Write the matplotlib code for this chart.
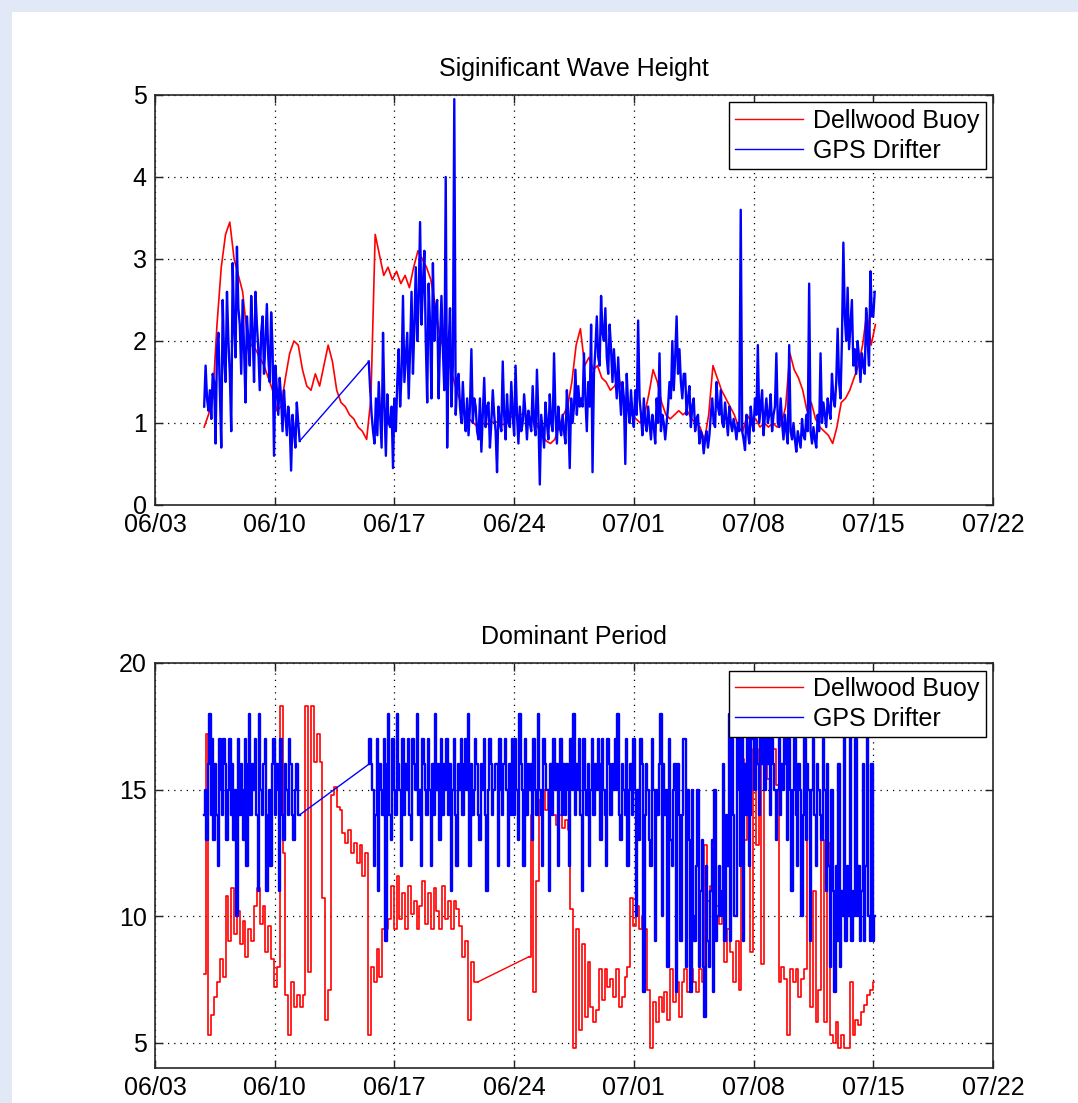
import numpy as np
import pandas as pd
import matplotlib
matplotlib.use("Agg")
import matplotlib.pyplot as plt
import matplotlib.dates as mdates
from matplotlib.patches import Rectangle

plt.rcParams["font.family"] = ["Liberation Sans", "DejaVu Sans"]

# sample start times (drifter every 2 h in two legs, buoy Hs every 6 h, buoy Tp every 4 h)
drifter_leg1_start = "2010-06-05 21:00"
drifter_leg2_start = "2010-06-15 12:00"
buoy_hs_start = "2010-06-05 21:00"
buoy_tp_leg1_start = "2010-06-05 21:00"
buoy_tp_leg2_start = "2010-06-24 21:00"

# significant wave height (m)
drifter_hs_leg1 = [
    1.2, 1.7, 1.3, 1.15, 1.4, 1.05, 1.6, 1.5,
    0.75, 1.9, 2.1, 1.4, 0.7, 2.5, 1.8, 1.5, 2.6, 2.0, 1.6, 0.9,
    2.95, 2.2, 1.8, 3.15, 2.4, 2.2, 1.6, 2.5, 1.9, 1.25, 2.3, 2.0,
    1.7, 2.55, 2.1, 1.5, 2.6, 2.2, 1.9, 1.4, 2.1, 2.3, 1.6, 2.0,
    2.45, 1.8, 1.5, 2.35, 1.9, 0.6, 1.7, 1.4, 1.1, 1.55, 1.3, 0.9,
    1.4, 1.1, 0.85, 1.2, 1.0, 0.42, 1.1, 0.9, 0.7, 1.25, 1.0, 0.78,
]
drifter_hs_leg2 = [
    1.75, 1.4, 1.1, 0.9, 0.75, 1.3,
    0.85, 1.5, 1.1, 0.7, 2.1, 1.2, 0.6, 1.35, 1.0, 0.95, 1.2, 0.45,
    1.3, 0.9, 1.5, 1.9, 1.2, 1.6, 2.55, 1.5, 1.8, 2.1, 1.3, 1.9,
    2.6, 1.6, 2.2, 2.9, 2.0, 2.5, 3.45, 2.2, 2.7, 3.1, 2.0, 1.25,
    2.7, 2.2, 1.3, 2.95, 2.0, 2.4, 2.5, 1.3, 2.0, 2.55, 1.9, 1.4,
    4.0, 0.7, 1.9, 2.4, 1.2, 1.7, 4.95, 1.1, 1.5, 1.6, 1.2, 1.0,
    1.5, 1.1, 0.9, 1.3, 0.85, 1.2, 1.9, 1.0, 1.3, 1.2, 0.9, 0.8,
    1.3, 0.65, 1.1, 1.55, 0.95, 1.2, 1.25, 0.7, 1.0, 1.4, 1.1, 0.9,
    0.4, 1.2, 1.0, 0.9, 1.75, 1.1, 0.8, 1.35, 1.0, 0.95, 1.5, 1.1,
    0.85, 1.7, 1.1, 0.75, 1.2, 0.9, 1.0, 1.35, 1.1, 0.8, 1.15, 1.0,
    0.9, 1.45, 1.0, 0.85, 1.65, 1.1, 0.25, 1.1, 0.9, 0.7, 1.25, 1.0,
    0.8, 1.35, 1.0, 0.9, 1.85, 1.1, 0.75, 1.2, 0.95, 0.85, 1.1, 0.9,
    0.75, 1.4, 1.1, 0.45, 1.3, 1.0, 1.2, 1.65, 1.1, 1.45, 1.2, 1.3,
    1.2, 1.85, 1.3, 0.9, 1.5, 1.2, 2.2, 0.4, 1.6, 1.9, 2.3, 1.8,
    1.7, 2.55, 2.1, 2.0, 2.4, 1.8, 1.6, 2.2, 1.9, 1.5, 1.9, 1.6,
    1.3, 1.8, 1.4, 1.1, 1.5, 1.3, 0.5, 1.6, 1.2, 1.0, 1.4, 1.1,
    0.95, 1.4, 1.1, 2.25, 1.3, 1.1, 0.85, 1.3, 1.0, 0.9, 1.2, 1.0,
    0.8, 1.1, 0.95, 0.75, 1.3, 1.0, 1.85, 0.9, 1.1, 1.0, 0.8, 1.0,
    1.2, 1.5, 1.3, 2.0, 1.4, 1.8, 2.3, 1.6, 1.9, 1.5, 1.3, 1.6,
    1.6, 1.1, 1.3, 1.45, 0.95, 1.2, 1.3, 0.9, 1.05, 1.1, 0.75, 0.9,
    0.85, 0.63, 0.8, 0.9, 0.7, 0.85, 1.1, 1.3, 1.0, 0.95, 1.5, 1.2,
    1.1, 1.4, 1.0, 0.95, 1.25, 1.05, 0.85, 1.2, 1.0, 0.9, 1.05, 0.95,
    0.8, 1.0, 0.9, 3.6, 0.9, 0.8, 0.67, 1.1, 0.9, 0.75, 1.2, 1.0,
    0.9, 1.3, 1.1, 1.95, 1.0, 1.2, 1.4, 0.85, 1.1, 1.3, 1.0, 1.1,
    1.35, 0.9, 1.1, 1.2, 1.85, 1.0, 0.95, 1.3, 1.0, 0.8, 1.1, 0.9,
    0.75, 1.95, 0.9, 0.8, 1.0, 0.8, 0.65, 0.9, 0.8, 0.7, 1.05, 0.85,
    0.8, 1.1, 0.9, 2.7, 0.9, 0.75, 0.95, 0.8, 0.7, 1.1, 0.9, 1.85,
    1.0, 1.25, 1.1, 0.95, 1.3, 1.15, 1.05, 1.6, 1.3, 1.2, 1.5, 2.15,
    1.5, 1.3, 2.0, 3.2, 2.3, 2.0, 2.65, 1.9, 2.2, 2.5, 1.7, 1.9,
    1.6, 2.0, 1.8, 1.5, 1.85, 1.7, 1.6, 2.4, 2.0, 1.7, 2.85, 2.3,
    2.3, 2.6,
]
buoy_hs = [
    0.95, 1.1, 1.3, 2.2, 2.9, 3.3, 3.45, 3.0, 2.8, 2.6, 2.1, 1.95, 1.9, 1.8, 1.7, 1.55,
    1.4, 1.15, 1.2, 1.55, 1.85, 2.0, 1.95, 1.65, 1.45, 1.4, 1.6, 1.45, 1.7, 1.95, 1.75, 1.4,
    1.25, 1.2, 1.1, 1.05, 0.95, 0.9, 0.8, 1.3, 3.3, 3.05, 2.8, 2.9, 2.75, 2.85, 2.7, 2.8,
    2.65, 2.9, 3.1, 3.0, 2.9, 2.75, 2.45, 2.1, 1.9, 1.75, 1.6, 1.4, 1.25, 1.1, 1.05, 1.0,
    0.95, 1.0, 0.98, 1.0, 1.02, 1.0, 0.98, 1.05, 1.08, 1.1, 1.1, 1.12, 1.05, 1.1, 0.95, 0.85,
    0.78, 0.75, 0.8, 0.95, 1.1, 1.2, 1.5, 1.95, 2.15, 1.7, 1.8, 1.65, 1.7, 1.55, 1.5, 1.4,
    1.45, 1.55, 1.35, 1.2, 1.1, 1.05, 1.0, 1.1, 1.35, 1.65, 1.5, 1.25, 1.1, 1.05, 1.1, 1.15,
    1.1, 1.15, 1.05, 1.0, 0.95, 0.78, 1.1, 1.7, 1.55, 1.4, 1.3, 1.2, 1.1, 0.95, 0.9, 1.1,
    1.0, 1.05, 0.95, 1.0, 0.95, 1.0, 0.95, 0.98, 1.2, 1.85, 1.65, 1.55, 1.4, 1.15, 1.25, 1.05,
    0.95, 0.9, 0.85, 0.75, 0.95, 1.25, 1.3, 1.4, 1.55, 1.7, 1.95, 2.35, 1.95, 2.2,
]

# dominant period (s)
drifter_tp_leg1 = [
    14, 15, 13, 16, 18, 14, 17, 13,
    16, 14, 12, 17, 15, 14, 17, 16, 13, 15, 17, 14,
    16, 13, 15, 10, 17, 14, 16, 15, 13, 17, 12, 16,
    18, 14, 16, 15, 17, 14, 11, 18, 15, 14, 16, 17,
    11, 14, 15, 12, 16, 17, 14, 16, 15, 11, 17, 14,
    13, 16, 15, 14, 17, 16, 14, 13, 15, 16, 14, 14,
]
drifter_tp_leg2 = [
    16, 17, 16, 15, 12, 14,
    17, 11, 16, 15, 14, 17, 9, 16, 18, 14, 13, 17,
    15, 14, 18, 16, 15, 12, 17, 14, 16, 15, 17, 14,
    13, 17, 16, 15, 18, 14, 15, 12, 17, 16, 15, 14,
    17, 15, 12, 16, 14, 18, 15, 16, 13, 17, 14, 16,
    15, 17, 14, 16, 11, 15, 17, 14, 12, 16, 15, 17,
    14, 16, 17, 15, 18, 12, 16, 14, 15, 17, 16, 14,
    13, 16, 15, 17, 14, 11, 15, 17, 16, 14, 15, 16,
    16, 12, 17, 15, 14, 16, 17, 15, 12, 16, 14, 17,
    14, 17, 15, 13, 18, 16, 15, 12, 17, 14, 16, 15,
    16, 13, 17, 15, 14, 18, 15, 14, 12, 17, 16, 15,
    15, 11, 16, 14, 17, 15, 16, 12, 15, 17, 14, 16,
    14, 16, 15, 12, 17, 15, 18, 14, 16, 15, 17, 14,
    11, 17, 15, 14, 16, 12, 15, 17, 14, 16, 15, 17,
    16, 13, 17, 15, 14, 12, 17, 16, 14, 16, 15, 17,
    15, 18, 14, 13, 16, 15, 14, 17, 12, 15, 16, 14,
    17, 15, 10, 15, 13, 17, 16, 7, 14, 16, 15, 13,
    12, 17, 15, 9, 15, 14, 16, 18, 10, 16, 14, 15,
    8, 17, 13, 12, 15, 16, 7, 16, 14, 9, 14, 17,
    17, 8, 15, 13, 7, 15, 10, 9, 12, 15, 8, 11,
    13, 8, 6, 12, 9, 8, 11, 13, 7, 15, 9, 10,
    12, 10, 11, 16, 9, 14, 12, 18, 9, 17, 14, 10,
    10, 18, 15, 12, 17, 9, 16, 14, 18, 12, 14, 17,
    18, 15, 17, 16, 14, 18, 16, 17, 15, 18, 16, 17,
    14, 17, 16, 15, 13, 15, 17, 14, 16, 15, 17, 16,
    13, 17, 15, 11, 15, 17, 14, 12, 16, 15, 10, 14,
    17, 13, 16, 15, 9, 15, 17, 14, 12, 16, 15, 14,
    13, 17, 15, 11, 16, 12, 8, 15, 11, 7, 12, 9,
    16, 8, 11, 10, 18, 9, 12, 10, 18, 9, 11, 10,
    17, 10, 12, 9, 11, 16, 9, 12, 18, 10, 9, 16,
    9, 10,
]
buoy_tp_leg1 = [
    7.7, 17.2, 5.3, 6.1, 6.8, 7.4, 8.3, 7.6, 10.8, 9.0, 11.1, 9.3, 10.2, 8.9, 9.8, 8.4,
    9.5, 9.0, 10.4, 11.1, 9.7, 10.4, 8.6, 9.6, 8.3, 7.2, 8.0, 18.3, 12.5, 6.9, 5.3, 7.4,
    6.4, 6.9, 6.4, 6.9, 18.3, 7.8, 18.3, 16.1, 17.2, 16.1, 10.7, 5.9, 7.1, 14.8, 15.1, 14.3,
    14.2, 13.3, 12.9, 13.4, 12.5, 12.9, 12.1, 12.8, 11.6, 12.5, 5.3, 8.0, 7.4, 8.7, 7.6, 9.5,
    9.5, 9.9, 11.2, 9.5, 11.6, 9.9, 10.9, 9.5, 11.2, 10.1, 10.6, 9.5, 10.4, 11.4, 9.7, 10.9,
    9.5, 11.1, 10.2, 9.5, 11.2, 9.9, 10.6, 9.5, 10.6, 10.3, 9.6, 8.4, 9.0, 5.9, 8.2, 7.4,
    7.4,
]
buoy_tp_leg2 = [
    8.4, 14.0, 7.0, 11.4, 14.6, 15.0, 14.2, 14.9, 14.3, 14.0, 13.6, 14.0, 13.5, 13.8, 13.4, 10.3,
    4.8, 9.5, 5.5, 8.9, 6.0, 8.2, 6.4, 5.8, 6.3, 7.9, 6.7, 7.9, 7.2, 7.5, 6.8, 7.9,
    6.4, 6.8, 7.6, 8.0, 10.7, 9.6, 10.4, 9.5, 10.0, 9.5, 7.1, 4.8, 6.6, 5.8, 6.8, 6.2,
    7.0, 5.9, 7.9, 6.6, 7.4, 6.0, 7.4, 7.9, 7.0, 7.9, 7.4, 7.0, 7.9, 7.4, 12.8, 10.6,
    11.2, 9.5, 10.4, 9.7, 10.0, 8.2, 9.5, 8.6, 7.4, 9.0, 7.1, 16.2, 13.0, 16.6, 8.6, 16.6,
    12.8, 16.6, 8.1, 16.6, 15.4, 16.6, 16.6, 15.2, 7.4, 8.0, 7.5, 5.3, 7.9, 7.4, 7.9, 6.8,
    7.5, 7.9, 15.0, 6.4, 11.0, 5.8, 7.1, 13.0, 5.8, 12.9, 5.3, 5.0, 5.8, 4.8, 5.3, 4.8,
    4.8, 7.4, 5.3, 5.9, 5.7, 6.2, 6.5, 6.9, 7.1, 7.4,
]

xtick_dates = pd.date_range("2010-06-03", "2010-07-22", freq="7D")


def times(start, values, step):
    return pd.date_range(start, periods=len(values), freq=step)


t_dr1 = times(drifter_leg1_start, drifter_hs_leg1, "2h")
t_dr2 = times(drifter_leg2_start, drifter_hs_leg2, "2h")
t_hs = times(buoy_hs_start, buoy_hs, "6h")
t_tp1 = times(buoy_tp_leg1_start, buoy_tp_leg1, "4h")
t_tp2 = times(buoy_tp_leg2_start, buoy_tp_leg2, "4h")

W, H = 1078, 1103
fig = plt.figure(figsize=(W / 100, H / 100), dpi=100, facecolor="#e2e9f6")
fig.patches.append(Rectangle((12 / W, 0), 1 - 12 / W, 1 - 12 / H,
                             transform=fig.transFigure, facecolor="white",
                             edgecolor="none", zorder=-10))

ax1 = fig.add_axes([155 / W, 1 - 505 / H, 838 / W, 410 / H])
ax2 = fig.add_axes([155 / W, 1 - 1068 / H, 838 / W, 405 / H])


def style(ax, title):
    ax.set_xlim(xtick_dates[0], xtick_dates[-1])
    ax.set_xticks(xtick_dates)
    ax.xaxis.set_major_formatter(mdates.DateFormatter("%m/%d"))
    ax.grid(True, color="black", linestyle=(0, (1, 4)), linewidth=0.9)
    ax.tick_params(direction="in", length=6, width=1, top=True, right=True,
                   labelsize=18, pad=6, colors="#222222", labelcolor="black")
    for s in ax.spines.values():
        s.set_linewidth(1.2)
        s.set_color("#262626")
    ax.set_title(title, fontsize=18, pad=14)
    leg = ax.legend(loc="upper right", fontsize=18, fancybox=False, edgecolor="black",
                    framealpha=1, borderaxespad=0.3, borderpad=0.25, labelspacing=0.25,
                    handlelength=2.7, handletextpad=0.4)
    leg.get_frame().set_linewidth(1.0)
    for line in leg.get_lines():
        line.set_linewidth(1.0)


def stepped_legs(ax, t1, v1, t2, v2, color, lw, label):
    # each leg is a staircase of samples; the data gap is bridged by a plain line
    ax.plot(t1, v1, color=color, lw=lw, drawstyle="steps-mid", label=label)
    ax.plot(t2, v2, color=color, lw=lw, drawstyle="steps-mid")
    ax.plot([t1[-1], t2[0]], [v1[-1], v2[0]], color=color, lw=1.0)


ax1.plot(t_hs, buoy_hs, color="red", lw=1.2, label="Dellwood Buoy")
ax1.plot(t_dr1, drifter_hs_leg1, color="blue", lw=1.7, label="GPS Drifter")
ax1.plot(t_dr2, drifter_hs_leg2, color="blue", lw=1.7)
ax1.plot([t_dr1[-1], t_dr2[0]], [drifter_hs_leg1[-1], drifter_hs_leg2[0]],
         color="blue", lw=1.0)
ax1.set_ylim(0, 5)
ax1.set_yticks([0, 1, 2, 3, 4, 5])
style(ax1, "Siginificant Wave Height")

stepped_legs(ax2, t_tp1, buoy_tp_leg1, t_tp2, buoy_tp_leg2, "red", 1.2, "Dellwood Buoy")
stepped_legs(ax2, t_dr1, drifter_tp_leg1, t_dr2, drifter_tp_leg2, "blue", 1.7, "GPS Drifter")
ax2.set_ylim(4, 20)
ax2.set_yticks([5, 10, 15, 20])
style(ax2, "Dominant Period")

fig.savefig("out.png", dpi=100, facecolor=fig.get_facecolor())
